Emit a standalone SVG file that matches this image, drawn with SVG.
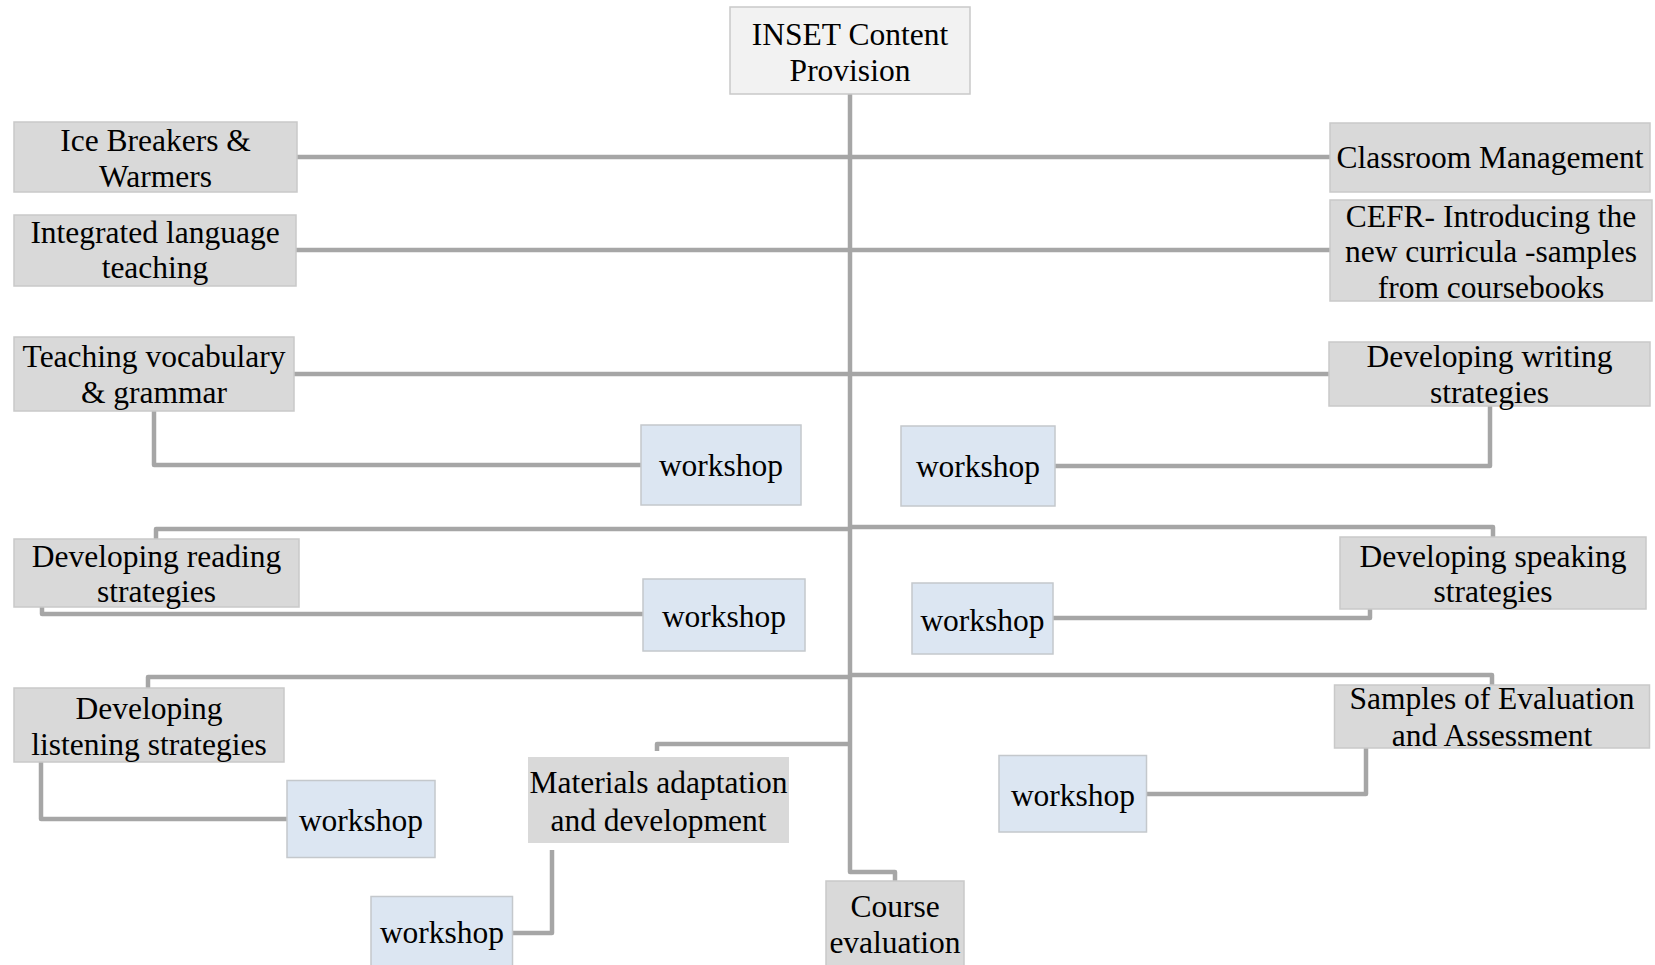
<svg xmlns="http://www.w3.org/2000/svg" width="1655" height="965" viewBox="0 0 1655 965">
  <style>
    .topic { fill: #d9d9d9; stroke: #c9c9c9; stroke-width: 1.5; }
    .plain { fill: #d9d9d9; stroke: none; }
    .root { fill: #f2f2f2; stroke: #c9c9c9; stroke-width: 1.5; }
    .ws { fill: #dce6f2; stroke: #c4c8cc; stroke-width: 1.5; }
    .lbl { font-family: "Liberation Serif", "Times New Roman", serif; font-size: 31.5px; fill: #000; text-anchor: middle; }
    .wire { fill: none; stroke: #a6a6a6; stroke-width: 4.5; stroke-linejoin: round; stroke-linecap: butt; }
  </style>
  <rect width="1655" height="965" fill="#ffffff"/>

  <!-- connectors -->
  <g id="connectors" class="wire">
    <!-- trunk -->
    <path d="M850 94 V872 H895 V881"/>
    <!-- straight branches to the upper topics -->
    <path d="M297 157 H1330"/>
    <path d="M296 250 H1330"/>
    <path d="M294 374 H1329"/>
    <!-- elbow branches -->
    <path d="M850 529 H156 V539"/>
    <path d="M850 527 H1493 V537"/>
    <path d="M850 677 H148 V688"/>
    <path d="M850 675 H1492 V685"/>
    <path d="M850 744 H657 V751"/>
    <!-- topic to workshop links -->
    <path d="M154 411 V465 H641"/>
    <path d="M1490 406 V466 H1055"/>
    <path d="M42 607 V614 H643"/>
    <path d="M1370 609 V618 H1053"/>
    <path d="M41 762 V819 H287"/>
    <path d="M1366 748 V794 H1147"/>
    <path d="M552 850 V933 H513"/>
  </g>

  <g id="root">
    <rect class="root" x="730" y="7" width="240" height="87"/>
    <text class="lbl" x="850" y="45">INSET Content</text>
    <text class="lbl" x="850" y="81">Provision</text>
  </g>

  <g id="ice-breakers">
    <rect class="topic" x="14" y="122" width="283" height="70"/>
    <text class="lbl" x="155.5" y="151">Ice Breakers &amp;</text>
    <text class="lbl" x="155.5" y="187">Warmers</text>
  </g>

  <g id="integrated">
    <rect class="topic" x="14" y="215" width="282" height="71"/>
    <text class="lbl" x="155" y="243">Integrated language</text>
    <text class="lbl" x="155" y="278">teaching</text>
  </g>

  <g id="vocabulary">
    <rect class="topic" x="14" y="337" width="280" height="74"/>
    <text class="lbl" x="154" y="367">Teaching vocabulary</text>
    <text class="lbl" x="154" y="403">&amp; grammar</text>
  </g>

  <g id="classroom">
    <rect class="topic" x="1330" y="123" width="320" height="69"/>
    <text class="lbl" x="1490" y="168">Classroom Management</text>
  </g>

  <g id="cefr">
    <rect class="topic" x="1330" y="200" width="322" height="101"/>
    <text class="lbl" x="1491" y="227">CEFR- Introducing the</text>
    <text class="lbl" x="1491" y="262">new curricula -samples</text>
    <text class="lbl" x="1491" y="298">from coursebooks</text>
  </g>

  <g id="writing">
    <rect class="topic" x="1329" y="342" width="321" height="64"/>
    <text class="lbl" x="1489.5" y="367">Developing writing</text>
    <text class="lbl" x="1489.5" y="403">strategies</text>
  </g>

  <g id="workshop-vocabulary">
    <rect class="ws" x="641" y="425" width="160" height="80"/>
    <text class="lbl" x="721" y="476">workshop</text>
  </g>

  <g id="workshop-writing">
    <rect class="ws" x="901" y="426" width="154" height="80"/>
    <text class="lbl" x="978" y="477">workshop</text>
  </g>

  <g id="reading">
    <rect class="topic" x="14" y="539" width="285" height="68"/>
    <text class="lbl" x="156.5" y="566.5">Developing reading</text>
    <text class="lbl" x="156.5" y="602">strategies</text>
  </g>

  <g id="workshop-reading">
    <rect class="ws" x="643" y="579" width="162" height="72"/>
    <text class="lbl" x="724" y="627">workshop</text>
  </g>

  <g id="speaking">
    <rect class="topic" x="1340" y="537" width="306" height="72"/>
    <text class="lbl" x="1493" y="566.5">Developing speaking</text>
    <text class="lbl" x="1493" y="602">strategies</text>
  </g>

  <g id="workshop-speaking">
    <rect class="ws" x="912" y="583" width="141" height="71"/>
    <text class="lbl" x="982.5" y="630.5">workshop</text>
  </g>

  <g id="listening">
    <rect class="topic" x="14" y="688" width="270" height="74"/>
    <text class="lbl" x="149" y="719">Developing</text>
    <text class="lbl" x="149" y="755">listening strategies</text>
  </g>

  <g id="workshop-listening">
    <rect class="ws" x="287" y="780.5" width="148" height="77"/>
    <text class="lbl" x="361" y="830.5">workshop</text>
  </g>

  <g id="samples">
    <rect class="topic" x="1334.5" y="685" width="315" height="63"/>
    <text class="lbl" x="1492" y="709">Samples of Evaluation</text>
    <text class="lbl" x="1492" y="746">and Assessment</text>
  </g>

  <g id="workshop-samples">
    <rect class="ws" x="999" y="755.5" width="147.5" height="76.5"/>
    <text class="lbl" x="1073" y="805.5">workshop</text>
  </g>

  <g id="materials">
    <rect class="plain" x="528" y="757" width="261" height="86"/>
    <text class="lbl" x="658.5" y="793">Materials adaptation</text>
    <text class="lbl" x="658.5" y="830.5">and development</text>
  </g>

  <g id="workshop-materials">
    <rect class="ws" x="371" y="896.5" width="141.5" height="80"/>
    <text class="lbl" x="442" y="943">workshop</text>
  </g>

  <g id="course-evaluation">
    <rect class="topic" x="826" y="881" width="138" height="95"/>
    <text class="lbl" x="895" y="917">Course</text>
    <text class="lbl" x="895" y="953">evaluation</text>
  </g>
</svg>
